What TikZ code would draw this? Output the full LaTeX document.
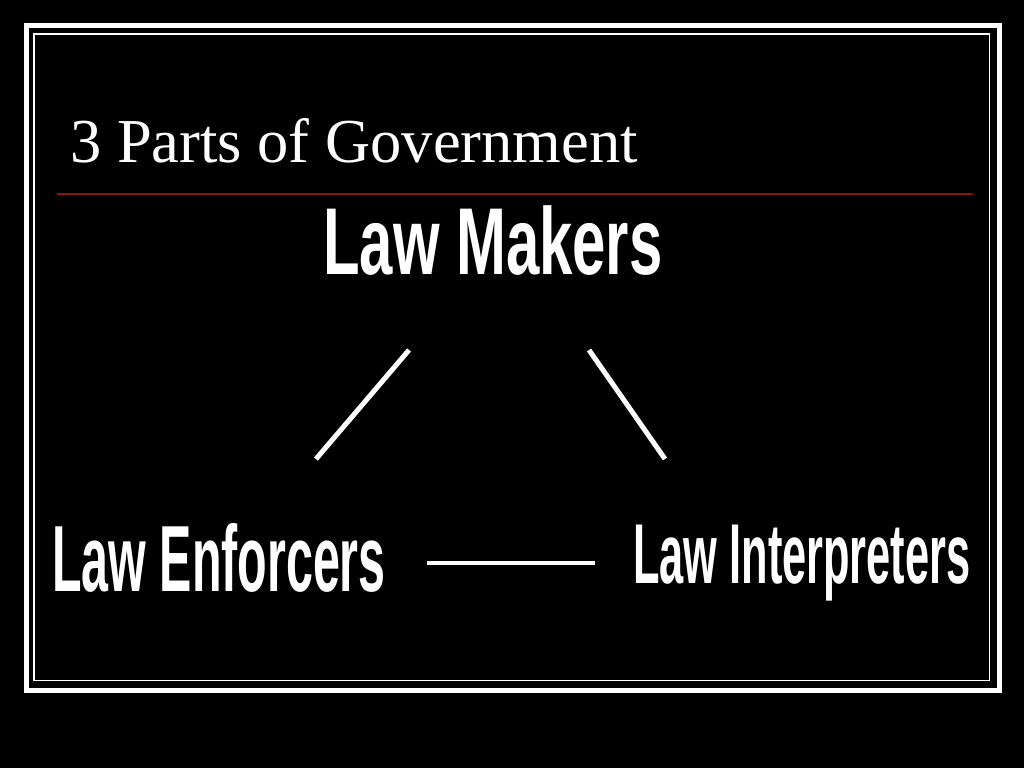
\documentclass[tikz,border=0pt]{standalone}
\usepackage{fontspec}
\setmainfont{Liberation Serif}
\setsansfont{Liberation Sans}
\usepackage{xcolor}
\definecolor{titlered}{HTML}{8A1414}
\newcommand{\narrowtext}[2]{\scalebox{#1}[1]{#2}}
\tikzset{
	branch/.style={text=white, inner sep=0pt, anchor=base west, font=\sffamily\bfseries},
	link/.style={white, line width=5pt}
}

\begin{document}
\begin{tikzpicture}[x=1pt, y=-1pt]
			\useasboundingbox (0,0) rectangle (1024,768);
			\fill[black] (0,0) rectangle (1024,768);
			\draw[white, line width=5pt] (26.5,25.5) rectangle (999.5,690.5);
			\draw[white, line width=1.5pt] (34,34) rectangle (989.5,680.5);
			\node[text=white, inner sep=0pt, anchor=base west, font=\fontsize{62.5}{70}\selectfont] (title) at (70,162) {3 Parts of Government};
			\draw[titlered, line width=2pt] (57,194) -- (973,194);
			\node[branch, font=\sffamily\bfseries\fontsize{95}{100}\selectfont] (makers) at (323,274) {\narrowtext{0.63}{Law Makers}};
			\node[branch, font=\sffamily\bfseries\fontsize{94}{100}\selectfont] (enforcers) at (52,591) {\narrowtext{0.515}{Law Enforcers}};
			\node[branch, font=\sffamily\bfseries\fontsize{85}{90}\selectfont] (interpreters) at (633,583) {\narrowtext{0.51}{Law Interpreters}};
			% connectors between the three parts
			\coordinate (mkleft) at (409,350);
			\coordinate (enftop) at (316,459);
			\coordinate (mkright) at (589,350);
			\coordinate (inttop) at (665,459);
			\coordinate (enfright) at (427,563);
			\coordinate (intleft) at (595,563);
			\draw[link] (mkleft) -- (enftop);
			\draw[link] (mkright) -- (inttop);
			\draw[link, line width=4pt] (enfright) -- (intleft);
		\end{tikzpicture}
\end{document}
